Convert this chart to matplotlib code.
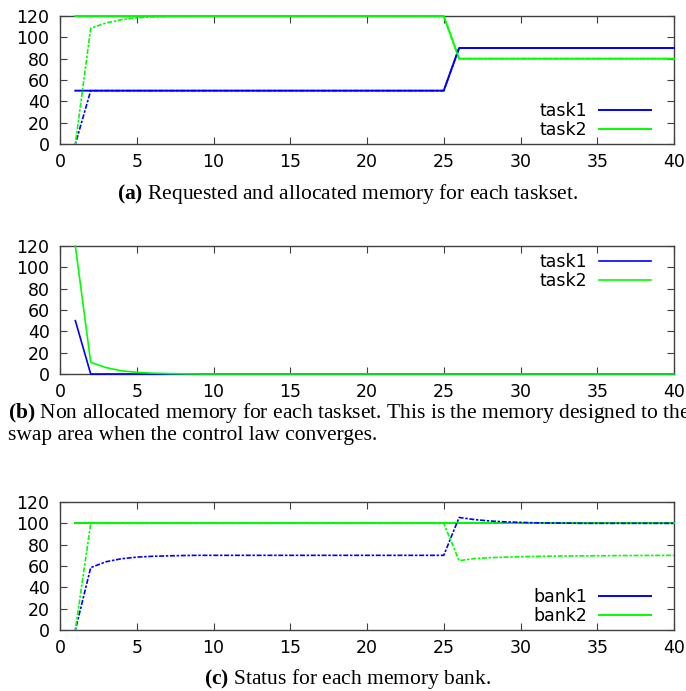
import matplotlib
matplotlib.use("Agg")
import matplotlib.pyplot as plt

# time steps
steps = list(range(1, 41))

# (a) requested memory per task
req_task1 = [50] * 25 + [90] * 15
req_task2 = [120] * 25 + [80] * 15
# (a) allocated memory per task
alloc_task1 = [0] + [50] * 24 + [90] * 15
alloc_task2 = [0, 108.5, 113.5, 116.5, 118.3, 119.2, 119.6, 119.8] + [120] * 17 + [80] * 15

# (b) non allocated memory per task
free_task1 = [50] + [0] * 39
free_task2 = [120, 11, 6, 3, 1.6, 0.8, 0.4, 0.2] + [0] * 32

# (c) bank capacity and usage
cap_bank1 = [100] * 40
cap_bank2 = [100] * 40
use_bank1 = ([0, 58.5, 64, 66.8, 68.3, 69.1, 69.5, 69.8] + [70] * 17 +
             [105.5, 103.5, 102.2, 101.4, 100.9, 100.5, 100.3, 100.2] + [100] * 7)
use_bank2 = ([0, 100] + [100] * 23 +
             [65, 67, 67.8, 68.3, 68.7, 69.0, 69.2, 69.4, 69.5, 69.6, 69.7, 69.8, 69.85, 69.9, 70])

xticks = [0, 5, 10, 15, 20, 25, 30, 35, 40]
yticks = [0, 20, 40, 60, 80, 100, 120]

BLUE = "#0000ff"
GREEN = "#00ff00"
DOTS = (0, (1.5, 1, 3, 1))

plt.rcParams["font.family"] = "DejaVu Sans"
plt.rcParams["mathtext.fontset"] = "custom"
plt.rcParams["mathtext.rm"] = "Liberation Serif"
plt.rcParams["mathtext.bf"] = "Liberation Serif:bold"

fig = plt.figure(figsize=(6.86, 6.91), dpi=100)

W, H = 686.0, 691.0


def make_axes(top_px, bottom_px):
    ax = fig.add_axes([60 / W, 1 - bottom_px / H, 614 / W, (bottom_px - top_px) / H])
    ax.set_xlim(0, 40)
    ax.set_ylim(0, 120)
    ax.set_xticks(xticks)
    ax.set_yticks(yticks)
    ax.tick_params(direction="in", length=5, width=0.8, color="#404040",
                   top=True, right=True, labelsize=12.5)
    ax.tick_params(axis="x", pad=6.5)
    ax.tick_params(axis="y", pad=7.5)
    for s in ax.spines.values():
        s.set_color("#404040")
        s.set_linewidth(1.0)
    return ax


def add_legend(ax, loc, anchor):
    leg = ax.legend(loc=loc, bbox_to_anchor=anchor, frameon=False, markerfirst=False,
                    handlelength=3.0, handletextpad=0.7, labelspacing=0.05,
                    borderpad=0, borderaxespad=0, fontsize=12.5)
    return leg


line_kw = dict(clip_on=False, zorder=3)

# (a)
ax1 = make_axes(16, 144)
ax1.plot(steps, req_task1, color=BLUE, lw=1.4, label="task1", **line_kw)
ax1.plot(steps, req_task2, color=GREEN, lw=1.4, label="task2", **line_kw)
ax1.plot(steps, alloc_task1, color=BLUE, lw=1.2, ls=DOTS, **line_kw)
ax1.plot(steps, alloc_task2, color=GREEN, lw=1.2, ls=DOTS, **line_kw)
add_legend(ax1, "lower right", (0.963, 0.04))

# (b)
ax2 = make_axes(246, 374)
ax2.plot(steps, free_task1, color=BLUE, lw=1.2, label="task1", **line_kw)
ax2.plot(steps, free_task2, color=GREEN, lw=1.2, label="task2", **line_kw)
add_legend(ax2, "upper right", (0.963, 0.945))

# (c)
ax3 = make_axes(502, 630)
ax3.plot(steps, cap_bank1, color=BLUE, lw=1.4, label="bank1", **line_kw)
ax3.plot(steps, cap_bank2, color=GREEN, lw=1.4, label="bank2", **line_kw)
ax3.plot(steps, use_bank1, color=BLUE, lw=1.2, ls=DOTS, **line_kw)
ax3.plot(steps, use_bank2, color=GREEN, lw=1.2, ls=DOTS, **line_kw)
add_legend(ax3, "lower right", (0.963, 0.04))

cap = dict(fontfamily="Liberation Serif", fontsize=15.5)
fig.text(348 / W, 1 - 194 / H, r"$\mathbf{(a)}$ Requested and allocated memory for each taskset.",
         ha="center", va="center", **cap)
fig.text(8 / W, 1 - 423 / H,
         r"$\mathbf{(b)}$ Non allocated memory for each taskset. This is the memory designed to the"
         "\nswap area when the control law converges.",
         ha="left", va="center", linespacing=1.1, **cap)
fig.text(348 / W, 1 - 679 / H, r"$\mathbf{(c)}$ Status for each memory bank.",
         ha="center", va="center", **cap)

fig.savefig("out.png", dpi=100)
